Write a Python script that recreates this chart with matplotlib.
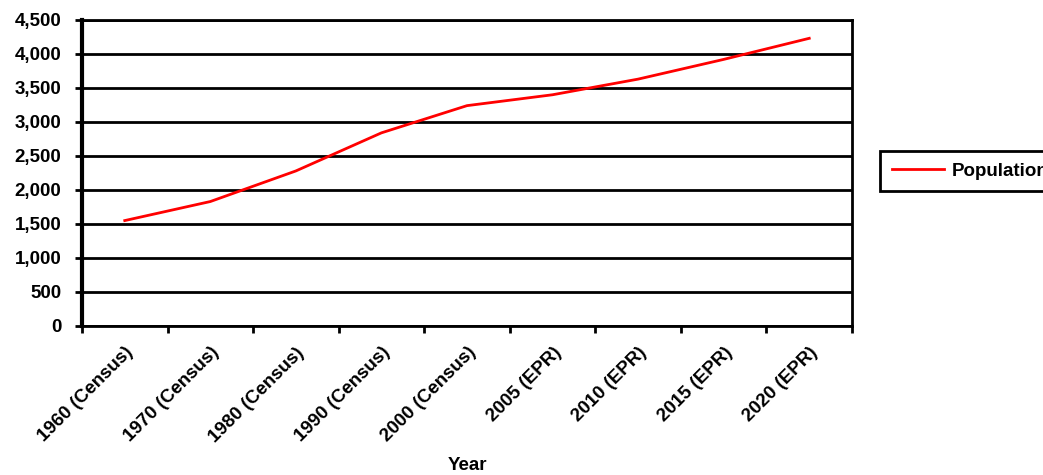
import matplotlib.pyplot as plt
from matplotlib.ticker import FuncFormatter, FixedLocator

years = ["1960 (Census)", "1970 (Census)", "1980 (Census)", "1990 (Census)",
         "2000 (Census)", "2005 (EPR)", "2010 (EPR)", "2015 (EPR)", "2020 (EPR)"]
population = [1550, 1830, 2280, 2840, 3240, 3400, 3630, 3920, 4230]

plt.rcParams["font.family"] = ["Liberation Sans", "DejaVu Sans"]
plt.rcParams["font.weight"] = "bold"

fig = plt.figure(figsize=(10.43, 4.75), dpi=100)
ax = fig.add_axes([0.0786, 0.3137, 0.7383, 0.6443])

x = list(range(len(years)))
ax.plot(x, population, color="#ff0000", linewidth=2, label="Population")

ax.set_xlim(-0.5, len(years) - 0.5)
ax.set_ylim(0, 4500)
ax.set_yticks(range(0, 4501, 500))
ax.yaxis.set_major_formatter(FuncFormatter(lambda v, _: f"{v:,.0f}"))
ax.grid(axis="y", color="black", linewidth=2)
ax.set_axisbelow(True)

# category labels sit at the centres, tick marks at the boundaries
ax.set_xticks(x)
ax.set_xticklabels(years, rotation=45, ha="right", rotation_mode="anchor",
                   fontsize=13.5, fontweight="bold")
ax.xaxis.set_minor_locator(FixedLocator([i - 0.5 for i in range(len(years) + 1)]))
ax.tick_params(axis="x", which="major", length=0, pad=13)
ax.tick_params(axis="x", which="minor", length=5, width=2, direction="out")
ax.tick_params(axis="y", length=5, width=2, direction="out", labelsize=13.5, pad=10)
for lbl in ax.get_yticklabels():
    lbl.set_fontweight("bold")

for side in ["top", "right", "bottom"]:
    ax.spines[side].set_linewidth(2)
ax.spines["left"].set_linewidth(3)

ax.set_xlabel("Year", fontsize=13.5, fontweight="bold", labelpad=8)

# legend box runs off the right edge of the figure
leg = fig.legend(loc="center left", bbox_to_anchor=(871 / 1043, 1 - 171 / 475),
                 handlelength=2.8, handletextpad=0.4,
                 borderpad=0.6, fancybox=False, framealpha=1,
                 edgecolor="black", prop={"weight": "bold", "size": 13.5})
leg.get_frame().set_linewidth(2)

fig.savefig("out.png", dpi=100)
